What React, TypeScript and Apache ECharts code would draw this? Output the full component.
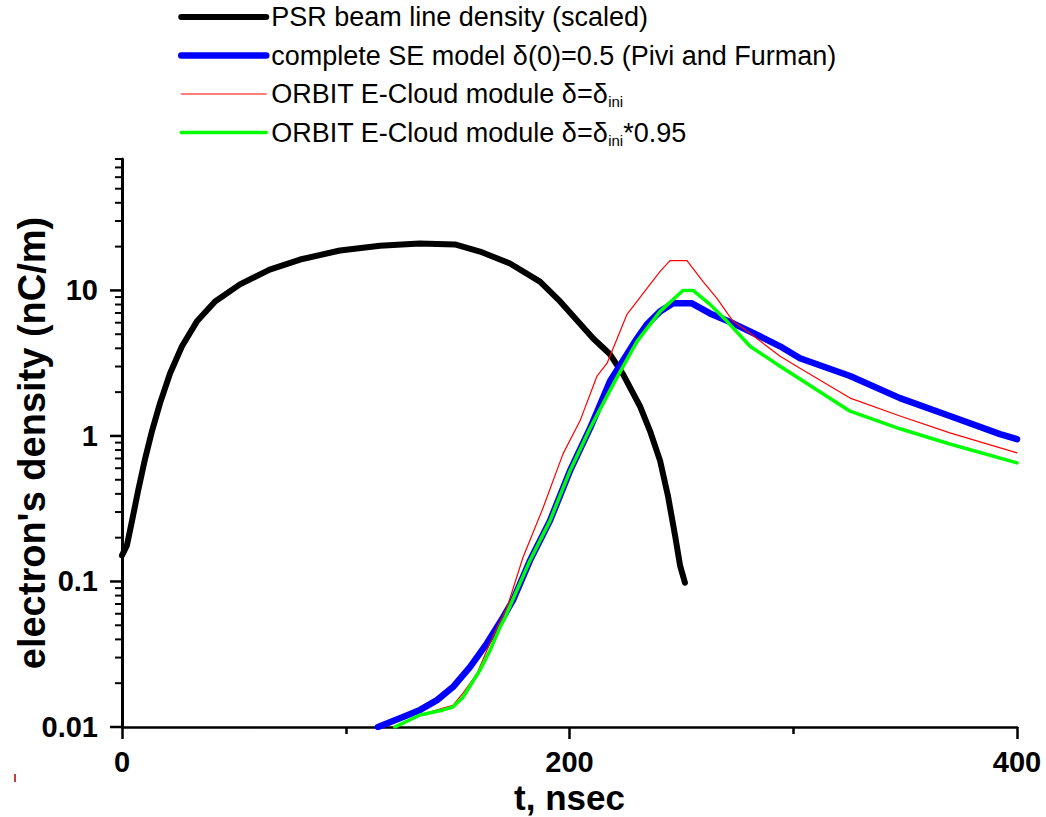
import React, { useEffect, useRef } from "react";
import * as echarts from "echarts";

// ---- data ----
const seriesNames = [
  "PSR beam line density (scaled)",
  "complete SE model δ(0)=0.5 (Pivi and Furman)",
  "ORBIT E-Cloud module δ=δini",
  "ORBIT E-Cloud module δ=δini*0.95",
];
const legendLabels = [
  "PSR beam line density (scaled)",
  "complete SE model δ(0)=0.5 (Pivi and Furman)",
  "ORBIT E-Cloud module δ=δ{s|ini}",
  "ORBIT E-Cloud module δ=δ{s|ini}*0.95",
];
const seriesColors = ["#000000", "#0000ff", "#ff0000", "#00ff00"];

const beamT = [0, 2.2, 4.5, 7.2, 10.3, 13.4, 17, 21.5, 26.8, 33.5, 41.6, 52.7, 66, 79.6, 97.4, 115.3, 133, 148.8, 160, 173.4, 186.8, 195.8, 210.5, 218.1, 223.9, 231.5, 236, 240.5, 244, 247.2, 249.4, 251.6];
const beamV = [0.151, 0.177, 0.262, 0.42, 0.695, 1.08, 1.68, 2.7, 4.13, 6.13, 8.4, 11.0, 13.9, 16.3, 18.8, 20.3, 21.0, 20.7, 18.5, 15.3, 11.5, 8.4, 4.69, 3.64, 2.66, 1.6, 1.08, 0.674, 0.388, 0.206, 0.129, 0.098];

const seT = [114.4, 125.6, 133.2, 140.8, 147.9, 155.5, 163.1, 170.3, 174.7, 182.3, 191.3, 200.2, 209.2, 218.1, 225.7, 230.2, 234.6, 240.5, 246.3, 254.7, 262.8, 273.1, 285.1, 294.1, 303, 325.4, 347.7, 370, 392.4, 400];
const seV = [0.01, 0.0117, 0.0131, 0.0153, 0.0188, 0.0258, 0.0376, 0.0566, 0.0741, 0.139, 0.262, 0.575, 1.13, 2.38, 3.64, 4.69, 5.85, 7.18, 8.15, 8.15, 6.95, 5.94, 4.84, 4.13, 3.42, 2.58, 1.82, 1.37, 1.03, 0.95];

const orbitT = [121.1, 133.2, 143.5, 147.9, 152.4, 158.7, 163.1, 167.6, 172.1, 179.2, 188.2, 197.1, 204.7, 212.3, 216.8, 225.7, 236, 240.5, 244.9, 252.5, 259.7, 265.9, 273.1, 280.7, 294.1, 303, 325.4, 347.7, 370, 400];
const orbitV = [0.01, 0.0121, 0.0135, 0.0141, 0.0171, 0.0234, 0.0337, 0.0484, 0.0664, 0.146, 0.321, 0.753, 1.27, 2.58, 3.16, 6.85, 11.0, 13.5, 16.0, 16.0, 11.5, 8.81, 6.13, 5.07, 3.53, 2.92, 1.82, 1.37, 1.05, 0.765];

const orbit95T = [122, 133.2, 143.5, 147.9, 152.4, 160, 164.5, 168.9, 171.2, 182.3, 191.3, 200.2, 209.2, 220.3, 230.2, 240.5, 250.7, 255.2, 262.8, 270.4, 280.7, 294.1, 303, 325.4, 347.7, 370, 400];
const orbit95V = [0.01, 0.0121, 0.0131, 0.0137, 0.016, 0.0246, 0.0337, 0.0484, 0.0566, 0.139, 0.262, 0.575, 1.13, 2.38, 4.47, 7.18, 10.0, 10.0, 8.02, 6.13, 4.13, 3.01, 2.46, 1.48, 1.12, 0.88, 0.653];

const xMin = 0;
const xMax = 400;
const xInterval = 200;
const yTickValues = [0.01, 0.1, 1, 10];
const yTickLabels = ["0.01", "0.1", "1", "10"];
const yMinorMultipliers = [2, 3, 4, 5, 6, 7, 8, 9];
const yMin = 0.01;
const yMax = 80;

const zip = (t: number[], v: number[]) => t.map((x, i) => [x, v[i]]);

export default function App() {
  const ref = useRef<HTMLDivElement>(null);
  useEffect(() => {
    if (!ref.current) return;
    const chart = echarts.init(ref.current, null, { renderer: "svg" });
    const font = "'Liberation Sans', Arial, sans-serif";
    const widths = [6, 6.5, 1.2, 3.5];
    const datas = [zip(beamT, beamV), zip(seT, seV), zip(orbitT, orbitV), zip(orbit95T, orbit95V)];

    chart.setOption({
      animation: false,
      backgroundColor: "#ffffff",
      grid: { left: 122, right: 29, top: 159, bottom: 90, containLabel: false, outerBoundsMode: "none" },
      legend: {
        orient: "vertical",
        left: 178,
        top: 2,
        padding: 0,
        itemWidth: 85,
        itemHeight: 20,
        itemGap: 8.5,
        data: seriesNames,
        formatter: (name: string) => legendLabels[seriesNames.indexOf(name)],
        itemStyle: { opacity: 0, color: "transparent", borderWidth: 0 },
        lineStyle: { width: "inherit", cap: "round" },
        textStyle: {
          fontFamily: font,
          fontSize: 27,
          color: "#000",
          lineHeight: 30,
          rich: {
            s: { fontFamily: font, fontSize: 15, color: "#000", lineHeight: 4, verticalAlign: "bottom" },
          },
        },
      },
      xAxis: {
        type: "value",
        min: xMin,
        max: xMax,
        interval: xInterval,
        axisLine: { show: true, onZero: false, lineStyle: { color: "#000", width: 2.5 } },
        axisTick: { show: true, length: 12, lineStyle: { color: "#000", width: 2.5 } },
        minorTick: { show: true, splitNumber: 2, length: 7, lineStyle: { color: "#000", width: 2.5 } },
        splitLine: { show: false },
        axisLabel: { fontFamily: font, fontSize: 29, fontWeight: "bold", color: "#000", margin: 20, lineHeight: 30 },
        name: "t, nsec",
        nameLocation: "middle",
        nameGap: 53,
        nameMoveOverlap: false,
        nameTextStyle: { fontFamily: font, fontSize: 35, fontWeight: "bold", color: "#000", lineHeight: 34 },
      },
      yAxis: {
        type: "log",
        logBase: 10,
        min: yMin,
        max: yMax,
        axisLine: { show: true, onZero: false, lineStyle: { color: "#000", width: 3 } },
        axisTick: { show: false },
        splitLine: { show: false },
        axisLabel: {
          fontFamily: font,
          fontSize: 29,
          fontWeight: "bold",
          color: "#000",
          margin: 24,
          formatter: (v: number) => {
            const i = yTickValues.findIndex((t) => Math.abs(Math.log10(v) - Math.log10(t)) < 1e-6);
            return i >= 0 ? yTickLabels[i] : "";
          },
        },
        name: "electron's density (nC/m)",
        nameLocation: "middle",
        nameGap: 71,
        nameMoveOverlap: false,
        nameTextStyle: { fontFamily: font, fontSize: 38, fontWeight: "bold", color: "#000" },
      },
      series: seriesNames.map((name, i) => ({
        name,
        type: "line",
        data: datas[i],
        symbol: "none",
        showSymbol: false,
        z: 2 + i,
        lineStyle: { color: seriesColors[i], width: widths[i], cap: "round", join: "round" },
        itemStyle: { color: seriesColors[i] },
      })),
    });

    const x0 = chart.convertToPixel({ xAxisIndex: 0 }, xMin) as number;
    const elements: any[] = [];
    yTickValues.forEach((d) => {
      const y = chart.convertToPixel({ yAxisIndex: 0 }, d) as number;
      elements.push({ type: "line", shape: { x1: x0 - 12, y1: y, x2: x0, y2: y }, style: { stroke: "#000", lineWidth: 2.5 } });
      yMinorMultipliers.forEach((m) => {
        const v = d * m;
        if (v <= yMax + 1e-9) {
          const ym = chart.convertToPixel({ yAxisIndex: 0 }, v) as number;
          elements.push({ type: "line", shape: { x1: x0 - 7, y1: ym, x2: x0, y2: ym }, style: { stroke: "#000", lineWidth: 2 } });
        }
      });
    });
    elements.push({ type: "line", shape: { x1: 15, y1: 774, x2: 15, y2: 782 }, style: { stroke: "#b00000", lineWidth: 1.5 } });
    chart.setOption({ graphic: { elements } });

    return () => chart.dispose();
  }, []);
  return <div ref={ref} style={{ position: "fixed", left: 0, top: 0, width: 1046, height: 817 }} />;
}
